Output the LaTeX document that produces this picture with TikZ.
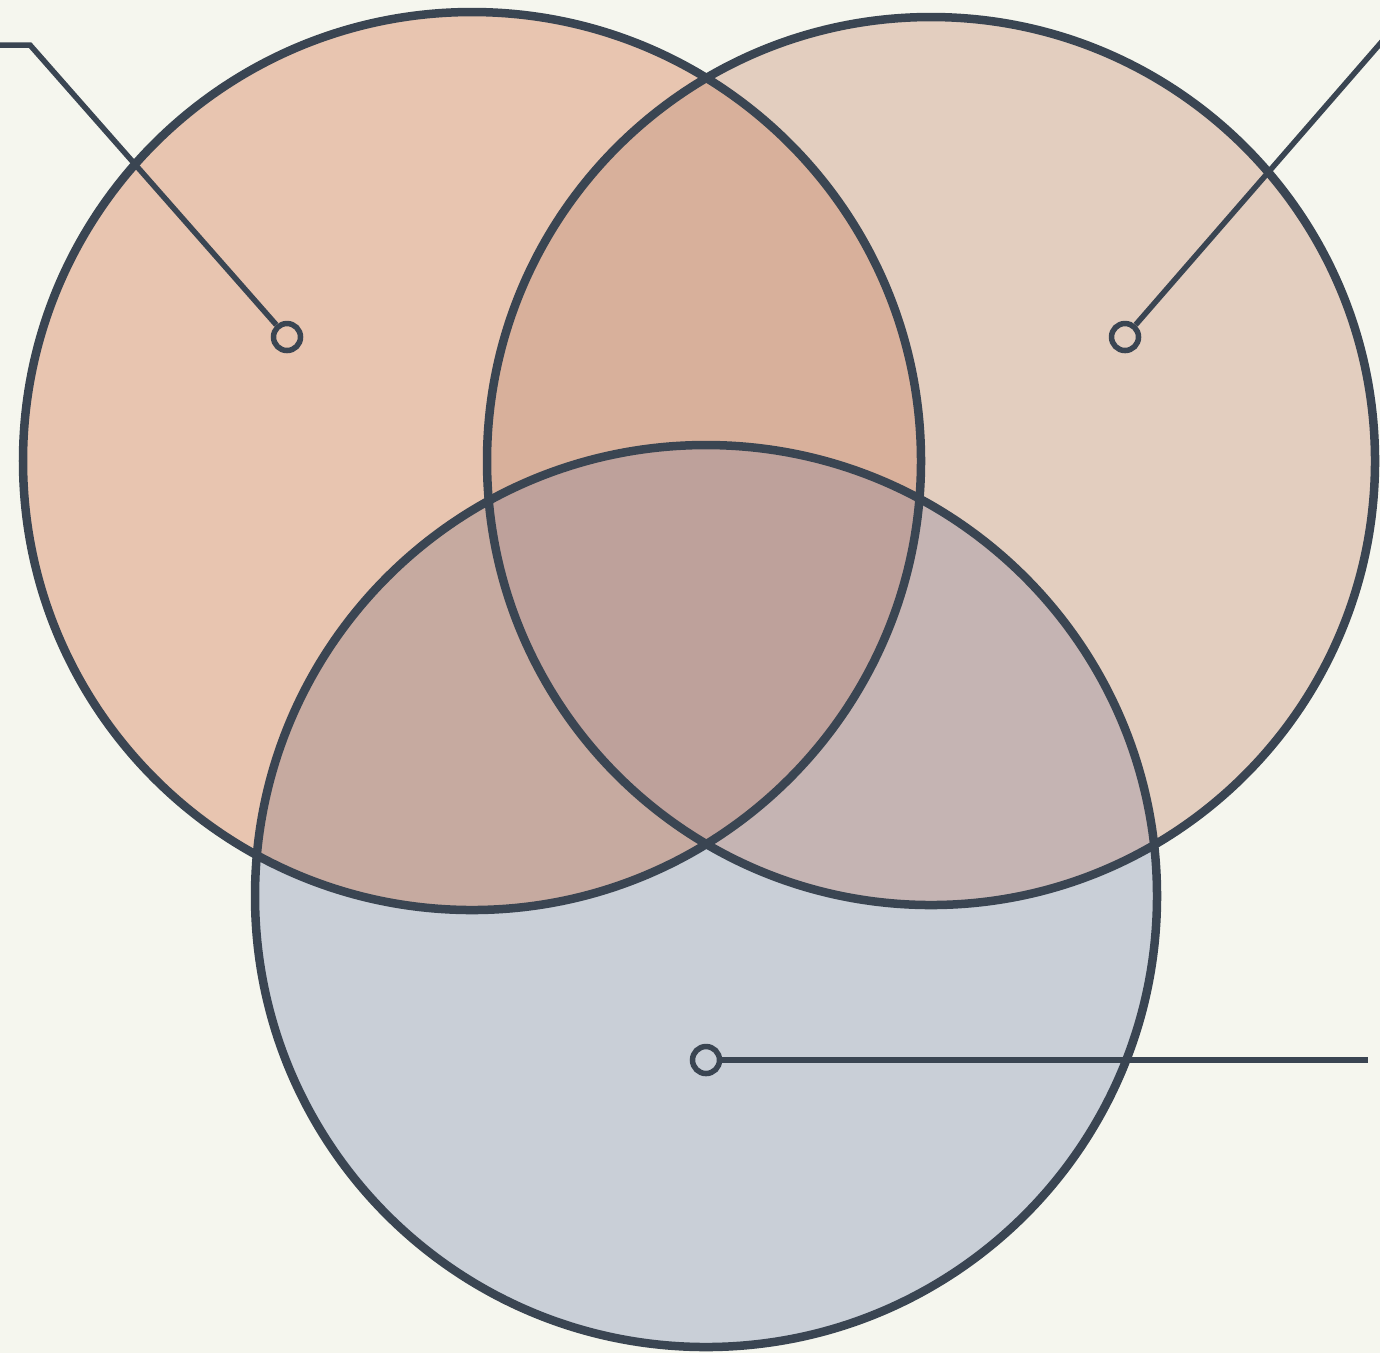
\documentclass[tikz,border=0pt]{standalone}
\definecolor{bg}{HTML}{F5F6EE}
\definecolor{ink}{HTML}{3A4552}
\definecolor{cA}{HTML}{E8C5B0}
\definecolor{cB}{HTML}{E3CEBF}
\definecolor{cC}{HTML}{C9CFD7}
\definecolor{cAB}{HTML}{D8B09B}
\definecolor{cAC}{HTML}{C6AAA0}
\definecolor{cBC}{HTML}{C5B4B3}
\definecolor{cABC}{HTML}{BEA19B}
\begin{document}
\begin{tikzpicture}[x=0.01cm,y=-0.01cm,
  outline/.style={draw=ink,line width=0.085cm},
  leader/.style={draw=ink,line width=0.055cm},
  dot/.style={circle,draw=ink,line width=0.055cm,minimum size=0.27cm,inner sep=0pt}]
\fill[bg] (0,0) rectangle (1380,1353);
\useasboundingbox (0,0) rectangle (1380,1353);
\def\pA{(472,461) circle (449)}
\def\pB{(931,461) circle (444)}
\def\pC{(706,896) circle (451)}
\fill[cA] \pA;
\fill[cB] \pB;
\fill[cC] \pC;
\begin{scope}\clip \pA; \fill[cAB] \pB; \end{scope}
\begin{scope}\clip \pA; \fill[cAC] \pC; \end{scope}
\begin{scope}\clip \pB; \fill[cBC] \pC; \end{scope}
\begin{scope}\clip \pA; \clip \pB; \fill[cABC] \pC; \end{scope}
\draw[outline] \pA;
\draw[outline] \pB;
\draw[outline] \pC;
\node[dot,fill=cA] (dA) at (287,337) {};
\node[dot,fill=cB] (dB) at (1125,337) {};
\node[dot,fill=cC] (dC) at (706,1060) {};
\coordinate (kA) at (30,45);
\coordinate (eA) at (-5,45);
\coordinate (eB) at (1385,38);
\coordinate (eC) at (1368,1060);
\draw[leader] (dA) -- (kA) -- (eA);
\draw[leader] (dB) -- (eB);
\draw[leader] (dC) -- (eC);
\end{tikzpicture}
\end{document}
